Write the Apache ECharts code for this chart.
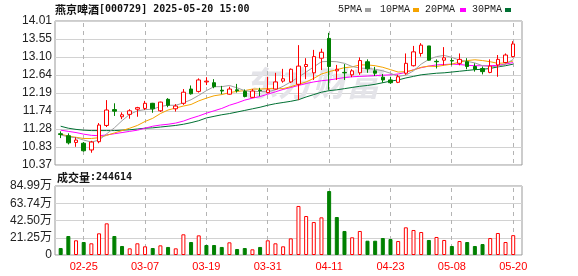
<!DOCTYPE html>
<html><head><meta charset="utf-8">
<script src="https://cdn.jsdelivr.net/npm/echarts/dist/echarts.min.js"></script>
<style>html,body{margin:0;padding:0;background:#fff}#c{width:578px;height:276px}</style>
</head><body><div id="c"></div>
<script>
// ---------- data ----------
const stockName = '燕京啤酒';
const stockCode = '000729';
const stamp = '2025-05-20 15:00';
const dates = ['02-20','02-21','02-24','02-25','02-26','02-27','02-28','03-03','03-04','03-05','03-06','03-07','03-10','03-11','03-12','03-13','03-14','03-17','03-18','03-19','03-20','03-21','03-24','03-25','03-26','03-27','03-28','03-31','04-01','04-02','04-03','04-07','04-08','04-09','04-10','04-11','04-14','04-15','04-16','04-17','04-18','04-21','04-22','04-23','04-24','04-25','04-28','04-29','04-30','05-06','05-07','05-08','05-09','05-12','05-13','05-14','05-15','05-16','05-19','05-20'];
const openP  = [11.16,11.11,10.94,10.92,10.75,10.96,11.37,11.77,11.59,11.65,11.78,11.80,11.93,11.74,12.03,11.79,11.93,12.29,12.23,12.47,12.45,12.26,12.16,12.27,12.23,12.08,12.26,12.20,12.29,12.49,12.47,12.41,12.86,12.70,13.07,13.57,12.75,12.71,12.65,12.70,12.98,12.75,12.59,12.52,12.46,12.69,12.88,13.19,13.38,12.99,13.02,13.01,12.94,12.98,12.86,12.81,12.71,12.90,12.96,13.11];
const closeP = [11.14,10.93,11.00,10.73,10.95,11.38,11.76,11.73,11.64,11.74,11.82,11.93,11.79,11.96,11.88,11.86,12.21,12.17,12.52,12.49,12.35,12.24,12.29,12.25,12.10,12.24,12.25,12.27,12.47,12.55,12.79,12.87,12.91,13.11,13.22,12.86,12.79,12.70,12.75,13.01,12.80,12.69,12.52,12.45,12.60,12.94,13.23,13.40,13.02,12.98,13.08,13.00,13.04,12.86,12.79,12.73,12.87,13.04,13.15,13.43];
const lowP   = [11.05,10.89,10.83,10.71,10.68,10.92,11.33,11.61,11.53,11.54,11.59,11.76,11.69,11.71,11.83,11.72,11.89,12.15,12.20,12.39,12.31,12.16,12.15,12.20,12.08,12.06,12.11,12.18,12.28,12.45,12.44,12.01,12.54,12.52,12.77,12.27,12.52,12.52,12.59,12.65,12.70,12.62,12.45,12.42,12.44,12.65,12.86,13.11,13.01,12.81,12.89,12.89,12.89,12.79,12.73,12.66,12.69,12.60,12.94,13.09];
const highP  = [11.22,11.17,11.07,10.95,10.98,11.43,12.01,11.93,11.70,11.78,11.84,11.99,11.94,11.97,12.06,11.91,12.29,12.38,12.56,12.59,12.54,12.37,12.35,12.42,12.28,12.29,12.32,12.60,12.70,12.80,12.81,13.40,13.07,13.28,13.31,13.71,12.90,12.92,12.79,13.09,13.04,12.85,12.67,12.60,12.65,13.19,13.38,13.45,13.38,13.04,13.35,13.07,13.19,13.07,12.94,12.86,13.04,13.15,13.19,13.50];
const ma5  = [11.13,11.08,11.06,11.00,10.95,11.00,11.16,11.31,11.49,11.65,11.74,11.77,11.78,11.85,11.88,11.88,11.94,12.02,12.13,12.25,12.35,12.35,12.38,12.32,12.25,12.22,12.23,12.22,12.27,12.36,12.47,12.59,12.72,12.85,12.98,12.99,12.98,12.94,12.86,12.82,12.81,12.79,12.75,12.69,12.61,12.64,12.75,12.92,13.04,13.11,13.14,13.09,13.02,12.99,12.95,12.88,12.86,12.86,12.92,13.04];
const ma10 = [11.15,11.10,11.07,11.04,11.04,11.06,11.12,11.18,11.24,11.30,11.37,11.47,11.55,11.67,11.76,11.81,11.86,11.90,11.99,12.06,12.12,12.15,12.20,12.23,12.25,12.29,12.29,12.30,12.30,12.30,12.35,12.41,12.47,12.56,12.67,12.73,12.78,12.83,12.85,12.90,12.90,12.88,12.84,12.78,12.72,12.73,12.77,12.84,12.87,12.86,12.89,12.92,12.97,13.01,13.03,13.01,12.98,12.94,12.95,13.00];
const ma20 = [11.25,11.22,11.19,11.15,11.12,11.11,11.13,11.16,11.19,11.22,11.25,11.30,11.35,11.38,11.40,11.43,11.48,11.55,11.61,11.68,11.74,11.80,11.88,11.94,12.01,12.06,12.10,12.16,12.22,12.28,12.33,12.38,12.43,12.47,12.50,12.52,12.55,12.58,12.60,12.61,12.62,12.63,12.64,12.65,12.67,12.71,12.78,12.83,12.87,12.90,12.91,12.92,12.91,12.89,12.88,12.88,12.88,12.89,12.92,12.96];
const ma30 = [11.35,11.30,11.27,11.25,11.24,11.24,11.24,11.24,11.25,11.26,11.28,11.30,11.31,11.33,11.35,11.37,11.40,11.44,11.49,11.56,11.60,11.64,11.67,11.71,11.75,11.79,11.83,11.88,11.92,11.95,11.98,12.02,12.09,12.15,12.21,12.25,12.27,12.30,12.33,12.36,12.38,12.41,12.45,12.49,12.52,12.57,12.61,12.65,12.67,12.69,12.70,12.72,12.74,12.76,12.78,12.79,12.81,12.85,12.88,12.92];
const volume = [86000,234000,181000,160000,144000,267000,390000,234000,111000,82000,144000,107000,86000,119000,99000,82000,255000,160000,242000,123000,123000,99000,156000,74000,86000,70000,99000,181000,144000,107000,205000,604000,480000,406000,464000,788000,468000,296000,218000,296000,176000,176000,209000,197000,172000,341000,308000,283000,185000,222000,185000,111000,172000,160000,111000,135000,209000,271000,160000,244614];
const volUp = [0,0,1,0,1,1,1,0,0,1,1,1,0,1,0,1,1,0,1,0,0,0,1,0,0,1,0,1,1,1,1,1,1,1,1,0,0,0,1,1,0,0,0,0,1,1,1,1,0,1,1,0,1,0,0,0,1,1,1,1];
const priceTicks = ['10.37','10.83','11.28','11.74','12.19','12.64','13.10','13.55','14.01'];
const priceRange = [10.37, 14.01];
const volTicks = ['0','21.25万','42.50万','63.74万','84.99万'];
const volMax = 849900;
const maNames = ['5PMA','10PMA','20PMA','30PMA'];

// ---------- styles ----------
const UP = '#ff0000', DOWN = '#008000';
const maColors = ['#a0a0a0','#f5a300','#ff00ff','#007033'];
const legendTextX = [338,380,425,472];
const legendBoxX = [365,413,460,505];
const labelFont = 'Liberation Sans, Noto Sans CJK SC, sans-serif';
const monoFont = 'DejaVu Sans Mono, monospace';
const cjkFont = 'Noto Sans CJK SC, sans-serif';
const showTick = (i) => (i - 3) % 8 === 0;

const FRAME_L = 55, FRAME_W = 467;
const DATA_L = 56.85, DATA_W = 460.2;
const MAIN_T = 21, MAIN_H = 144;
const VOL_T = 186, VOL_H = 69;

const chart = echarts.init(document.getElementById('c'), null, {renderer: 'canvas'});

const candleData = dates.map((d, i) => [openP[i], closeP[i], lowP[i], highP[i]]);
const volData = volume.map((v, i) => ({
  value: v,
  itemStyle: volUp[i] ? {color: '#ffffff', borderColor: UP, borderWidth: 1}
                      : {color: DOWN, borderColor: DOWN, borderWidth: 1}
}));
const tickIdx = dates.map((d, i) => i).filter(showTick);

const graphics = [];
maNames.forEach((n, k) => {
  graphics.push({type: 'text', left: legendTextX[k], top: 4, z: 10,
    style: {text: n, font: '10px Liberation Mono, monospace', fill: '#222'}});
  graphics.push({type: 'rect', left: legendBoxX[k], top: 8, z: 10,
    shape: {width: 6, height: 4}, style: {fill: maColors[k]}});
});
graphics.push({type: 'text', left: 244, top: 66, z: 1, silent: true,
  style: {text: '东方财富', font: 'italic bold 34px Noto Sans CJK SC, sans-serif', fill: '#e4e4e9'}});

const option = {
  animation: false,
  backgroundColor: '#ffffff',
  title: [
    {left: 55, top: 3, padding: 0,
     text: '{c|' + stockName + '}{m|[' + stockCode + '] ' + stamp + '}',
     textStyle: {rich: {
       c: {fontFamily: cjkFont, fontSize: 11, color: '#111', lineHeight: 13},
       m: {fontFamily: monoFont, fontSize: 10, color: '#111', lineHeight: 13}}}},
    {left: 57, top: 171, padding: 0,
     text: '{c|成交量}{m|:' + volume[volume.length - 1] + '}',
     textStyle: {rich: {
       c: {fontFamily: cjkFont, fontSize: 11, color: '#111', lineHeight: 13},
       m: {fontFamily: monoFont, fontSize: 10, color: '#111', lineHeight: 13}}}}
  ],
  graphic: graphics,
  grid: [
    {left: FRAME_L, top: MAIN_T, width: FRAME_W, height: MAIN_H, show: true, borderColor: '#999', borderWidth: 1, backgroundColor: 'transparent', outerBoundsMode: 'none'},
    {left: DATA_L, top: MAIN_T, width: DATA_W, height: MAIN_H, show: false, outerBoundsMode: 'none'},
    {left: FRAME_L, top: VOL_T, width: FRAME_W, height: VOL_H, show: true, borderColor: '#999', borderWidth: 1, backgroundColor: 'transparent', outerBoundsMode: 'none'},
    {left: DATA_L, top: VOL_T, width: DATA_W, height: VOL_H, show: false, outerBoundsMode: 'none'}
  ],
  xAxis: [
    {gridIndex: 0, type: 'value', min: 0, max: 1, show: false},
    {gridIndex: 1, type: 'category', data: dates, boundaryGap: true,
     axisLine: {show: false}, axisTick: {show: false}, axisLabel: {show: false},
     splitLine: {show: false}},
    {gridIndex: 2, type: 'value', min: 0, max: 1, show: false},
    {gridIndex: 3, type: 'category', data: dates, boundaryGap: true,
     axisLine: {show: false}, axisTick: {show: false},
     axisLabel: {show: true, interval: (i) => showTick(i), color: UP, fontSize: 11, fontFamily: labelFont, margin: 6},
     splitLine: {show: false}}
  ],
  yAxis: [
    {gridIndex: 0, type: 'value', min: 0, max: priceTicks.length - 1, interval: 1,
     axisLine: {show: false}, axisTick: {show: false},
     splitLine: {show: true, lineStyle: {color: '#d2d2d2', width: 1}},
     axisLabel: {formatter: (v) => priceTicks[Math.round(v)], color: '#222', fontSize: 12, fontFamily: labelFont, margin: 3}},
    {gridIndex: 1, type: 'value', min: priceRange[0], max: priceRange[1], show: false},
    {gridIndex: 2, type: 'value', min: 0, max: volTicks.length - 1, interval: 1,
     axisLine: {show: false}, axisTick: {show: false},
     splitLine: {show: true, lineStyle: {color: '#d2d2d2', width: 1}},
     axisLabel: {formatter: (v) => volTicks[Math.round(v)], color: '#222', fontSize: 12, fontFamily: labelFont, margin: 3}},
    {gridIndex: 3, type: 'value', min: 0, max: volMax, show: false}
  ],
  series: [
    {type: 'line', name: maNames[3], xAxisIndex: 1, yAxisIndex: 1, data: ma30, showSymbol: false, z: 6,
     lineStyle: {color: maColors[3], width: 1}},
    {type: 'line', name: maNames[2], xAxisIndex: 1, yAxisIndex: 1, data: ma20, showSymbol: false, z: 6,
     lineStyle: {color: maColors[2], width: 1}},
    {type: 'line', name: maNames[1], xAxisIndex: 1, yAxisIndex: 1, data: ma10, showSymbol: false, z: 6,
     lineStyle: {color: maColors[1], width: 1}},
    {type: 'line', name: maNames[0], xAxisIndex: 1, yAxisIndex: 1, data: ma5, showSymbol: false, z: 6,
     lineStyle: {color: maColors[0], width: 1}},
    {type: 'candlestick', name: 'K', xAxisIndex: 1, yAxisIndex: 1, data: candleData, barWidth: 4, z: 7,
     itemStyle: {color: '#ffffff', color0: DOWN, borderColor: UP, borderColor0: DOWN, borderWidth: 1}},
    {type: 'bar', name: 'VOL', xAxisIndex: 3, yAxisIndex: 3, data: volData, barWidth: 4, z: 7}
  ]
};
chart.setOption(option);

// vertical dashed guides at the labelled dates, positioned through the category scale
function catX(i) {
  let p = chart.convertToPixel({gridIndex: 1}, [i, priceRange[0]]);
  let x = Array.isArray(p) ? p[0] : p;
  if (!isFinite(x)) x = chart.convertToPixel({xAxisIndex: 1}, i);
  if (!isFinite(x)) x = chart.convertToPixel({xAxisIndex: 1}, dates[i]);
  return x;
}
const guides = [];
tickIdx.forEach((i) => {
  const x = Math.floor(catX(i));
  if (!isFinite(x)) return;
  [[MAIN_T, MAIN_T + MAIN_H], [VOL_T, VOL_T + VOL_H]].forEach((yy) => {
    for (let y = yy[0] + 2; y < yy[1] - 1; y += 8) {
      guides.push({type: 'rect', z: 5, silent: true,
        shape: {x: x, y: y, width: 1, height: Math.min(4, yy[1] - y)},
        style: {fill: '#b4b4b4'}});
    }
  });
});
chart.setOption({graphic: {elements: graphics.concat(guides)}});
</script>
</body></html>
